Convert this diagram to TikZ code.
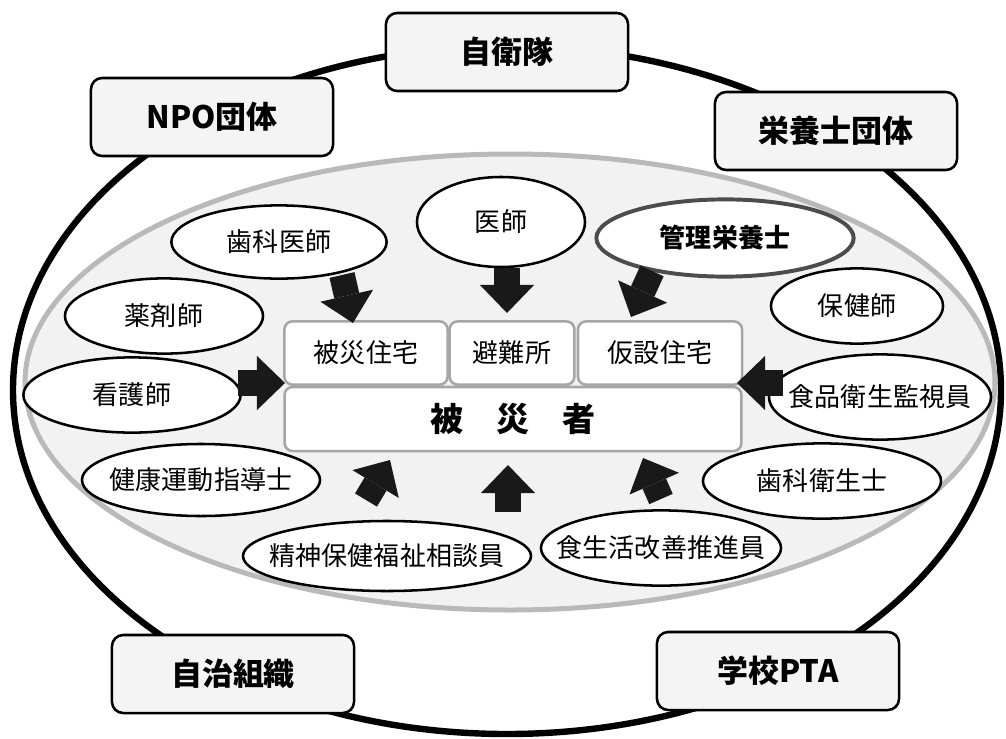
\documentclass[tikz,border=0pt]{standalone}
\usepackage{fontspec}
\setmainfont{Noto Sans CJK JP}
\usepackage{tikz}
\usetikzlibrary{shapes.geometric,arrows.meta}

\newcommand{\zw}[1]{\makebox[0pt]{#1}}

\begin{document}
\begin{tikzpicture}[x=0.025cm, y=-0.025cm,
    orgbox/.style={rectangle, rounded corners=0.28cm, draw, line width=1.8pt, fill=gray!9,
      minimum width=6.05cm, minimum height=1.95cm, font=\fontsize{22}{26}\selectfont\bfseries},
    role/.style={ellipse, draw, line width=1.8pt, fill=white, inner sep=0pt,
      font=\fontsize{18.5}{22}\selectfont},
    place/.style={rectangle, rounded corners=0.2cm, draw=gray!70, line width=1.8pt, fill=white,
      inner sep=0pt, minimum height=1.58cm, font=\fontsize{18.5}{22}\selectfont},
    bigarrow/.style={black!90, line width=0.64cm,
      -{Triangle[length=0.7cm, width=1.35cm, line width=0pt]}}]

    \useasboundingbox (0,0) rectangle (1006,738);

    % outer ring and the shaded area
    \draw[line width=0.16cm] (507,390) ellipse [x radius=494, y radius=344];
    \draw[line width=0.125cm, draw=gray!55, fill=gray!10] (510,382) ellipse [x radius=485, y radius=228];

    % groups on the outer ring
    \node (jieitai) [orgbox] at (507,52) {自衛隊};
    \node (npo) [orgbox] at (212,117) {NPO団体};
    \node (eiyodan) [orgbox] at (836,131) {栄養士団体};
    \node (jichi) [orgbox] at (233,674) {自治組織};
    \node (pta) [orgbox] at (778,671) {学校PTA};

    % professions
    \node (shika) [role, minimum width=5.38cm, minimum height=1.83cm] at (279,242) {\zw{歯科医師}};
    \node (ishi) [role, minimum width=4.2cm, minimum height=2.25cm] at (501,222) {\zw{医師}};
    \node (kanri) [role, draw=black!70, line width=2.8pt, minimum width=6.43cm, minimum height=1.93cm,
      font=\fontsize{18.5}{22}\selectfont\bfseries] at (725,238) {\zw{管理栄養士}};
    \node (yakuzai) [role, minimum width=4.95cm, minimum height=1.88cm] at (164,316) {\zw{薬剤師}};
    \node (hoken) [role, minimum width=4.3cm, minimum height=1.88cm] at (857,306) {\zw{保健師}};
    \node (kango) [role, minimum width=5.43cm, minimum height=1.88cm] at (132,395) {\zw{看護師}};
    \node (shokuhin) [role, minimum width=5.55cm, minimum height=2.13cm] at (880,397) {\zw{食品衛生監視員}};
    \node (kenko) [role, minimum width=5.95cm, minimum height=1.8cm] at (201,480) {\zw{健康運動指導士}};
    \node (seishin) [role, minimum width=7.2cm, minimum height=1.75cm] at (387,556) {\zw{精神保健福祉相談員}};
    \node (shokusei) [role, minimum width=6.0cm, minimum height=1.88cm] at (661,548) {\zw{食生活改善推進員}};
    \node (shikaeisei) [role, minimum width=5.95cm, minimum height=1.88cm] at (822,481) {\zw{歯科衛生士}};

    % places and the victims
    \node (jutaku) [place, minimum width=4.08cm] at (366,353) {被災住宅};
    \node (hinan) [place, minimum width=3.12cm] at (512,353) {避難所};
    \node (kasetsu) [place, minimum width=4.1cm] at (660,353) {仮設住宅};
    \node (hisaisha) [place, minimum width=11.42cm, minimum height=1.6cm,
      font=\fontsize{23.5}{28}\selectfont\bfseries] at (513,419) {被　災　者};

    % arrow ends
    \coordinate (a1) at (342,275); \coordinate (b1) at (353,323);
    \coordinate (a2) at (507,268); \coordinate (b2) at (507,313);
    \coordinate (a3) at (652,271); \coordinate (b3) at (631,317);
    \coordinate (a4) at (238,383); \coordinate (b4) at (285,383);
    \coordinate (a5) at (783,383); \coordinate (b5) at (737,383);
    \coordinate (a6) at (366,500); \coordinate (b6) at (390,460);
    \coordinate (a7) at (508,512); \coordinate (b7) at (508,465);
    \coordinate (a8) at (661,499); \coordinate (b8) at (643,458);

    \foreach \i in {1,...,8}
        \draw[bigarrow] (a\i) -- (b\i);

\end{tikzpicture}
\end{document}
